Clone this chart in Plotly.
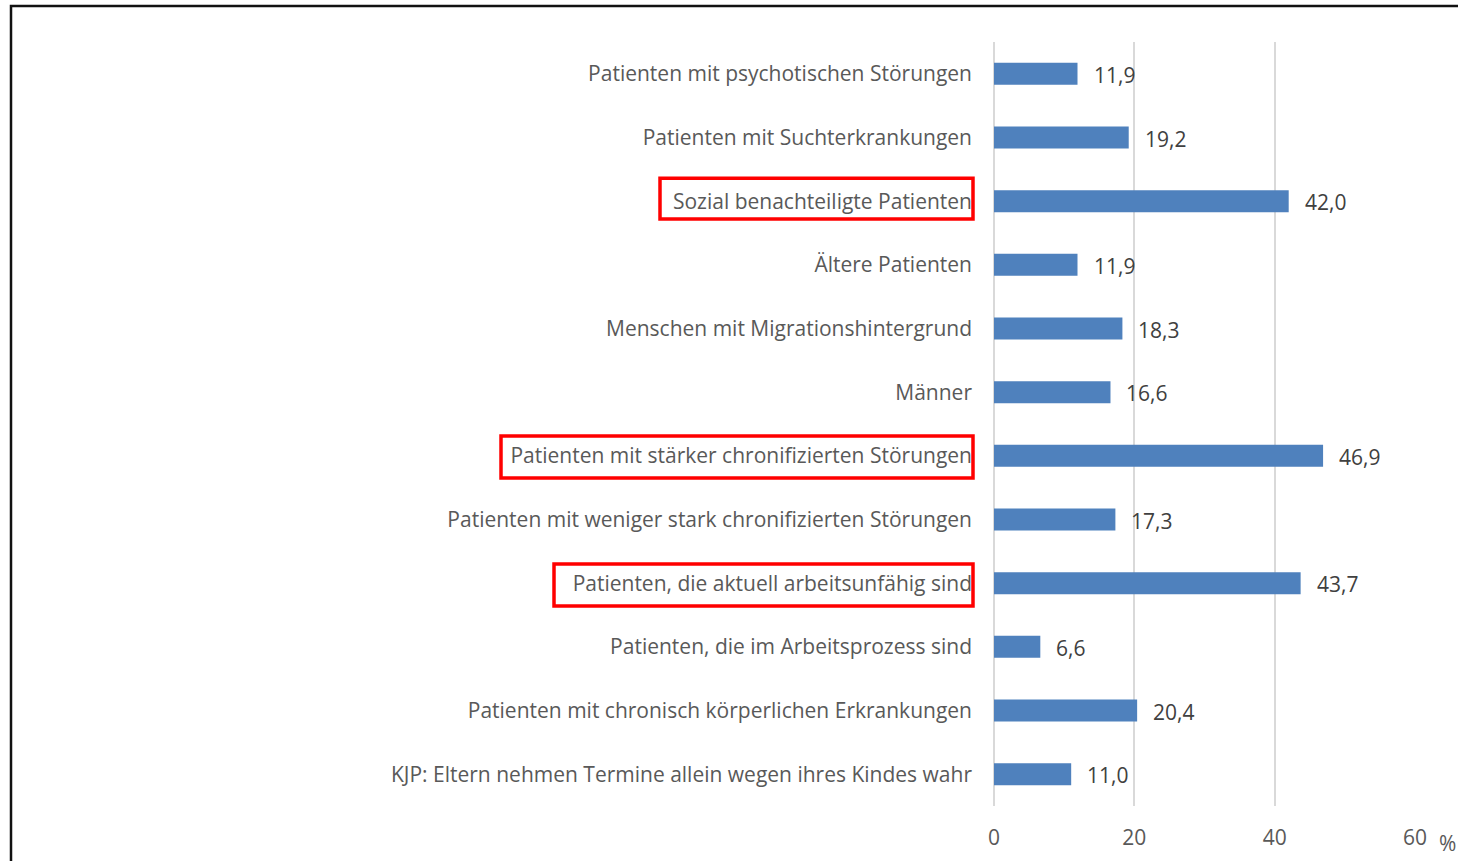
import plotly.graph_objects as go

categories = [
    "Patienten mit psychotischen Störungen",
    "Patienten mit Suchterkrankungen",
    "Sozial benachteiligte Patienten",
    "Ältere Patienten",
    "Menschen mit Migrationshintergrund",
    "Männer",
    "Patienten mit stärker chronifizierten Störungen",
    "Patienten mit weniger stark chronifizierten Störungen",
    "Patienten, die aktuell arbeitsunfähig sind",
    "Patienten, die im Arbeitsprozess sind",
    "Patienten mit chronisch körperlichen Erkrankungen",
    "KJP: Eltern nehmen Termine allein wegen ihres Kindes wahr",
]
values = [11.9, 19.2, 42.0, 11.9, 18.3, 16.6, 46.9, 17.3, 43.7, 6.6, 20.4, 11.0]
labels = ["11,9", "19,2", "42,0", "11,9", "18,3", "16,6", "46,9", "17,3", "43,7", "6,6", "20,4", "11,0"]
x_ticks = [0, 20, 40, 60]
# highlighted label: (left edge px, top offset, bottom offset in category units)
highlighted = {
    "Sozial benachteiligte Patienten": (660, -0.36, 0.28),
    "Patienten mit stärker chronifizierten Störungen": (501, -0.31, 0.35),
    "Patienten, die aktuell arbeitsunfähig sind": (554, -0.30, 0.36),
}

FONT = "Open Sans"
FS = 21
W, H = 1458, 861
L, R, T, B = 994, 43, 42, 55
pw = W - L - R
ph = H - T - B

def px_x(p):
    return (p - L) / pw

def px_y(p):
    return 1 - (p - T) / ph

fig = go.Figure(go.Bar(
    x=values, y=categories, orientation="h",
    marker=dict(color="#4F81BD", line=dict(width=0)),
    hoverinfo="skip",
))

for c, v, t in zip(categories, values, labels):
    fig.add_annotation(x=v, y=c, text=t, showarrow=False, xanchor="left",
                       xshift=14, yshift=-1, font=dict(family=FONT, size=FS, color="#404040"))

for i, c in enumerate(categories):
    if c in highlighted:
        left, d0, d1 = highlighted[c]
        fig.add_shape(type="rect", xref="paper", yref="y",
                      x0=px_x(left), x1=px_x(973), y0=i + d0, y1=i + d1,
                      line=dict(color="#FF0000", width=3.5), fillcolor="rgba(0,0,0,0)")

# outer frame
fig.add_shape(type="path", xref="paper", yref="paper",
              path=f"M {px_x(11)} {px_y(900)} L {px_x(11)} {px_y(6)} L {px_x(1500)} {px_y(6)}",
              line=dict(color="#111111", width=2.5))

fig.add_annotation(xref="paper", yref="paper", x=px_x(1437), y=px_y(843), text="%",
                   showarrow=False, xanchor="left", yanchor="middle",
                   font=dict(family=FONT, size=FS, color="#595959"))

fig.update_layout(
    width=W, height=H,
    margin=dict(l=L, r=R, t=T, b=B, autoexpand=False),
    paper_bgcolor="white", plot_bgcolor="white",
    bargap=0.655, showlegend=False,
    font=dict(family=FONT, color="#595959"),
    xaxis=dict(range=[0, 60], tickvals=x_ticks, ticktext=[str(v) for v in x_ticks],
               showgrid=True, gridcolor="#D9D9D9", gridwidth=2,
               zeroline=True, zerolinecolor="#D9D9D9", zerolinewidth=2,
               showline=False, ticks="", tickfont=dict(family=FONT, size=FS, color="#595959"),
               ticklabelstandoff=17),
    yaxis=dict(autorange="reversed", showgrid=False, zeroline=False, showline=False,
               ticks="", tickfont=dict(family=FONT, size=FS, color="#595959"),
               ticklabelstandoff=21),
)

fig.write_html("out.html", config={"displayModeBar": False},
               post_script="document.body.style.margin='0';")
